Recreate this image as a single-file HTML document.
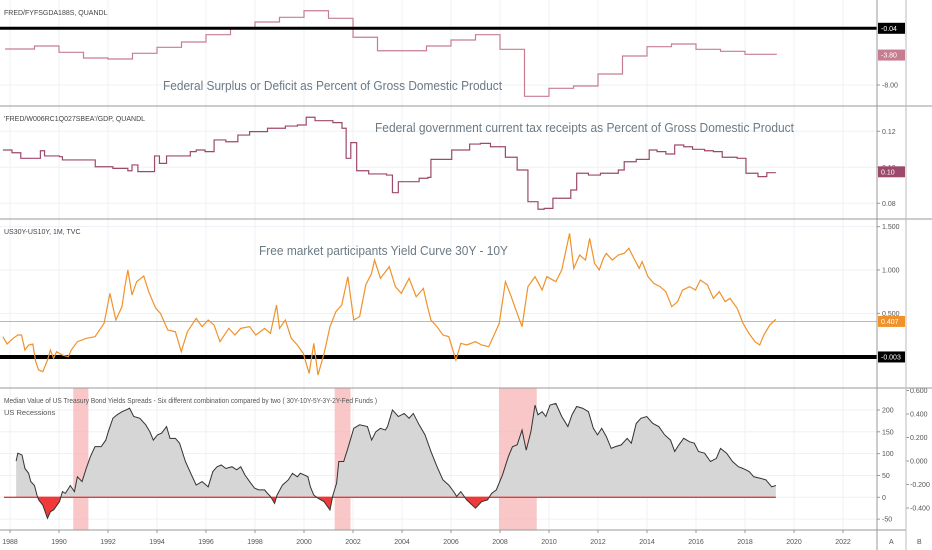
<!DOCTYPE html>
<html><head><meta charset="utf-8"><style>
html,body{margin:0;padding:0;background:#fff;}
svg{display:block;font-family:"Liberation Sans Narrow","Liberation Sans",sans-serif;}
</style></head><body>
<svg id="c" width="932" height="550" viewBox="0 0 932 550" xmlns="http://www.w3.org/2000/svg">
<g id="grid"></g>
<g id="marks"></g>
<g id="axes"></g>
</svg>
<script>
// ---- data ----
const xTicks = [1988,1990,1992,1994,1996,1998,2000,2002,2004,2006,2008,2010,2012,2014,2016,2018,2020,2022];
// Pane 1: Federal surplus/deficit % GDP (annual steps)
const defYears = [1988,1989,1990,1991,1992,1993,1994,1995,1996,1997,1998,1999,2000,2001,2002,2003,2004,2005,2006,2007,2008,2009,2010,2011,2012,2013,2014,2015,2016,2017,2018];
const defVals = [-2.95,-2.53,-3.41,-4.21,-4.35,-3.55,-2.71,-1.96,-0.94,-0.04,0.84,1.5,2.43,1.36,-1.3,-3.19,-3.19,-2.53,-1.68,-0.94,-2.99,-9.59,-8.47,-8.14,-6.46,-3.93,-2.62,-2.25,-2.99,-3.27,-3.69];
const defTicks = [-0.04,-3.80,-8.00];
// Pane 2: tax receipts / GDP
const taxYears = [1987.71,1988.08,1988.44,1989.05,1989.24,1989.41,1990.02,1990.14,1991.11,1991.48,1992.20,1992.81,1992.98,1993.22,1993.42,1993.90,1994.10,1994.39,1995.36,1995.60,1995.96,1996.33,1996.81,1997.30,1997.78,1998.51,1999.24,1999.73,2000.09,2000.45,2001.18,2001.55,2001.72,2001.91,2002.03,2002.15,2002.64,2003.37,2003.61,2003.85,2004.34,2004.70,2005.06,2005.18,2005.55,2006.03,2006.76,2007.20,2007.61,2008.22,2008.70,2009.14,2009.55,2009.80,2010.16,2010.89,2011.13,2011.61,2012.10,2012.83,2013.07,2013.56,2013.92,2014.09,2014.41,2014.77,2015.13,2015.50,2015.86,2016.35,2016.71,2017.07,2017.68,2018.04,2018.53,2018.89,2019.26];
const taxVals = [0.1096,0.1081,0.1050,0.1050,0.1092,0.1063,0.1059,0.1041,0.1041,0.1003,0.0994,0.0981,0.1013,0.0976,0.0976,0.1063,0.1022,0.1063,0.1087,0.1096,0.1087,0.1152,0.1142,0.1179,0.1198,0.1217,0.1229,0.1235,0.1278,0.1259,0.1248,0.1217,0.1050,0.1137,0.1137,0.0981,0.0963,0.0957,0.0859,0.0920,0.0920,0.0939,0.0944,0.1044,0.1044,0.1096,0.1129,0.1133,0.1114,0.1056,0.0985,0.0809,0.0767,0.0772,0.0828,0.0874,0.0967,0.0957,0.0967,0.0985,0.1031,0.1044,0.1044,0.1096,0.1087,0.1074,0.1124,0.1114,0.1100,0.1092,0.1087,0.1056,0.1050,0.0967,0.0948,0.0970,0.0970];
const taxTicks = [0.12,0.10,0.08];
// Pane 3: US30Y-US10Y
const ycYears = [1987.71,1987.88,1988.13,1988.32,1988.47,1988.61,1988.76,1988.93,1989.05,1989.17,1989.34,1989.53,1989.65,1989.78,1989.90,1990.14,1990.38,1990.50,1990.75,1991.11,1991.47,1991.84,1992.08,1992.32,1992.57,1992.69,1992.81,1992.98,1993.17,1993.46,1993.66,1993.95,1994.14,1994.44,1994.75,1994.99,1995.24,1995.60,1995.84,1996.09,1996.33,1996.57,1996.93,1997.18,1997.42,1997.78,1998.03,1998.39,1998.63,1998.88,1999.00,1999.24,1999.48,1999.73,1999.97,2000.21,2000.40,2000.57,2000.82,2001.06,2001.30,2001.54,2001.79,2002.03,2002.27,2002.52,2002.76,2002.88,2003.12,2003.48,2003.73,2003.97,2004.29,2004.58,2004.87,2005.01,2005.18,2005.43,2005.67,2005.91,2006.20,2006.40,2006.64,2007.00,2007.25,2007.54,2007.85,2007.97,2008.22,2008.46,2008.65,2008.90,2009.14,2009.43,2009.72,2009.91,2010.28,2010.52,2010.84,2011.01,2011.25,2011.49,2011.66,2011.86,2012.05,2012.22,2012.34,2012.58,2012.83,2013.07,2013.26,2013.43,2013.68,2013.80,2014.04,2014.28,2014.53,2014.77,2015.01,2015.25,2015.45,2015.74,2015.98,2016.18,2016.47,2016.71,2016.95,2017.19,2017.39,2017.68,2017.92,2018.16,2018.41,2018.60,2018.77,2019.01,2019.26];
const ycVals = [0.231,0.146,0.212,0.25,0.25,0.077,0.135,0.146,-0.058,-0.154,-0.173,-0.038,0.077,-0.019,0.058,0.019,0,0.077,0.173,0.212,0.231,0.385,0.731,0.423,0.577,0.808,1.0,0.712,0.865,0.931,0.75,0.558,0.5,0.308,0.288,0.058,0.288,0.442,0.346,0.423,0.365,0.173,0.327,0.25,0.327,0.346,0.25,0.327,0.269,0.596,0.327,0.423,0.212,0.135,0.038,-0.192,0.154,-0.212,0.038,0.346,0.519,0.596,0.923,0.423,0.462,0.827,0.962,1.115,0.904,1.038,0.808,0.731,0.904,0.692,0.788,0.615,0.423,0.346,0.25,0.231,-0.038,0.154,0.135,0.173,0.135,0.115,0.308,0.385,0.865,0.692,0.538,0.346,0.808,0.923,0.769,0.923,0.865,1.0,1.423,1.019,1.173,1.115,1.365,1.077,1.0,1.135,1.192,1.115,1.173,1.192,1.25,1.154,1.019,1.096,0.923,0.846,0.808,0.75,0.577,0.635,0.769,0.808,0.769,0.885,0.827,0.673,0.75,0.635,0.673,0.558,0.385,0.269,0.173,0.135,0.25,0.365,0.431];
const ycTicks = [1.5,1.0,0.5];
const ycLast = 0.407, ycZero = -0.003;
// Pane 4: median spread
const medYears = [1988.25,1988.32,1988.49,1988.61,1988.76,1988.85,1989.00,1989.10,1989.17,1989.34,1989.53,1989.65,1989.78,1990.02,1990.14,1990.26,1990.46,1990.63,1990.75,1990.94,1991.11,1991.28,1991.47,1991.72,1991.91,1992.01,1992.20,1992.37,1992.57,1992.74,1992.88,1993.05,1993.30,1993.54,1993.71,1993.85,1994.02,1994.19,1994.39,1994.53,1994.75,1994.92,1995.16,1995.41,1995.60,1995.84,1996.09,1996.28,1996.45,1996.62,1996.81,1997.06,1997.25,1997.42,1997.59,1997.78,1997.98,1998.15,1998.39,1998.51,1998.63,1998.80,1998.90,1999.12,1999.36,1999.53,1999.73,1999.85,2000.02,2000.16,2000.26,2000.40,2000.57,2000.82,2001.06,2001.18,2001.33,2001.42,2001.62,2001.79,2002.03,2002.27,2002.59,2002.76,2002.93,2003.12,2003.32,2003.41,2003.61,2003.85,2004.09,2004.29,2004.46,2004.70,2004.94,2005.18,2005.43,2005.67,2005.91,2006.11,2006.23,2006.40,2006.64,2007.00,2007.25,2007.49,2007.66,2007.85,2008.10,2008.34,2008.51,2008.70,2008.90,2009.07,2009.26,2009.43,2009.55,2009.72,2009.87,2010.04,2010.28,2010.52,2010.77,2010.94,2011.13,2011.37,2011.61,2011.81,2011.98,2012.15,2012.34,2012.54,2012.71,2012.95,2013.19,2013.36,2013.56,2013.75,2013.99,2014.24,2014.48,2014.72,2014.96,2015.13,2015.30,2015.50,2015.74,2015.93,2016.10,2016.35,2016.59,2016.83,2017.00,2017.25,2017.49,2017.73,2017.92,2018.17,2018.36,2018.60,2018.85,2019.09,2019.26];
const medVals = [83,101,97,66,55,36,27,5,-6,-18,-48,-33,-29,-10,13,9,27,13,47,36,66,93,116,116,131,150,181,189,196,200,204,185,181,166,150,131,143,147,162,135,135,124,82,51,28,36,24,59,70,74,66,70,63,70,51,36,21,17,17,9,2,-14,5,28,40,55,47,55,51,47,24,5,-2,-10,-29,5,32,82,82,112,158,166,162,131,150,158,154,162,200,185,192,181,192,166,143,105,70,40,28,13,2,13,-6,-25,-10,-6,9,17,51,93,116,120,154,108,150,211,189,196,185,211,215,185,162,189,208,204,196,158,143,158,139,112,116,120,135,124,169,181,185,169,162,143,131,105,120,135,127,124,105,101,82,89,112,101,82,70,66,59,47,44,40,24,27];
const medTicks = [200,150,100,50,0,-50];
const medRightTicks = [0.6,0.4,0.2,0.0,-0.2,-0.4];
const recStart = [1990.58,2001.25,2007.96];
const recEnd = [1991.2,2001.9,2009.5];

// ---- scales ----
const X = y => 10 + (y - 1988) * 24.5;
const Y1 = v => 28.3 + (-0.04 - v) * 7.12;
const Y2 = v => 167.3 - (v - 0.10) * 1800;
const Y3 = v => 270 - (v - 1.0) * 86.7;
const Y4 = v => 497.3 - v * 0.4367;
const YR = v => 461 - v * 117.5;
const PR = 877;
const NS = 'http://www.w3.org/2000/svg';
const G = document.getElementById('grid'), M = document.getElementById('marks'), A = document.getElementById('axes');
function mk(tag, attrs, parent){const e=document.createElementNS(NS,tag);for(const k in attrs)e.setAttribute(k,attrs[k]);parent.appendChild(e);return e;}

// vertical grid
xTicks.forEach(t=>{
  const l=mk('line',{x1:X(t),x2:X(t),y1:0,y2:530,stroke:'#eef1f6','stroke-width':1},G);
  
  
  const tx=mk('text',{x:X(t),y:544,'font-size':7,fill:'#555','text-anchor':'middle'},A);
  tx.textContent=t;
  
  
  mk('line',{x1:X(t),x2:X(t),y1:530,y2:533,stroke:'#999'},A);
});
// horizontal grid + right labels
function hgrid(ticks, sc, fmt){
  ticks.forEach(v=>{
    const l=mk('line',{x1:0,x2:PR,y1:sc(v),y2:sc(v),stroke:'#eef1f6'},G);
    
    
    mk('line',{x1:PR,x2:PR+3,y1:sc(v),y2:sc(v),stroke:'#999'},A);
    const t=mk('text',{x:PR+5,y:sc(v)+2.5,'font-size':7,fill:'#555'},A);
    t.textContent=fmt(v);
    
    
  });
}
hgrid(defTicks.slice(2),Y1,v=>v.toFixed(2));
hgrid(taxTicks,Y2,v=>v.toFixed(2));
hgrid(ycTicks,Y3,v=>v.toFixed(3));
hgrid(medTicks,Y4,v=>String(v));
medRightTicks.forEach(v=>{
  mk('line',{x1:906,x2:909,y1:YR(v),y2:YR(v),stroke:'#999'},A);
  const t=mk('text',{x:910,y:YR(v)+2.5,'font-size':7,fill:'#555'},A);
  t.textContent=v.toFixed(3);
  
  
});

// recessions
recStart.forEach((s,i)=>{
  const r=mk('rect',{x:X(s),y:388,width:X(recEnd[i])-X(s),height:142,fill:'#f7b4b6',opacity:0.75},M);
  
  
});

// pane1 step line
let d='';
defYears.forEach((yr,i)=>{
  const x0=X(i===0?yr-0.2:yr), x1=X(i===defYears.length-1?yr+1.3:yr+1), y=Y1(defVals[i]);
  d+=(i===0?'M':'L')+x0+','+y+'L'+x1+','+y;
});
const p1=mk('path',{d:d,fill:'none',stroke:'#c67d90','stroke-width':1.2},M);



// pane2 step line
d='';
taxYears.forEach((yr,i)=>{
  const x=X(yr),y=Y2(taxVals[i]);
  if(i===0)d='M'+x+','+y;else d+='H'+x+'V'+y;
});
const p2=mk('path',{d:d,fill:'none',stroke:'#9c4a6c','stroke-width':1.2},M);



// pane3
const zl=mk('line',{x1:0,x2:PR,y1:Y3(ycZero),y2:Y3(ycZero),stroke:'#000','stroke-width':4},M);


const ll=mk('line',{x1:0,x2:PR,y1:Y3(ycLast),y2:Y3(ycLast),stroke:'#f0a050','stroke-width':0.8},M);


const p3=mk('polyline',{points:ycYears.map((yr,i)=>X(yr)+','+Y3(ycVals[i])).join(' '),fill:'none',stroke:'#f0922b','stroke-width':1.2},M);



// pane1 black line
const bl=mk('line',{x1:0,x2:PR,y1:Y1(-0.04),y2:Y1(-0.04),stroke:'#000','stroke-width':3},M);



// pane4 area
const defs=mk('defs',{},M);
const ca=mk('clipPath',{id:'above'},defs);mk('rect',{x:0,y:388,width:PR,height:Y4(0)-388},ca);
const cb=mk('clipPath',{id:'below'},defs);mk('rect',{x:0,y:Y4(0),width:PR,height:530-Y4(0)},cb);
const pts=medYears.map((yr,i)=>X(yr)+','+Y4(medVals[i]));
const ad='M'+X(medYears[0])+','+Y4(0)+'L'+pts.join('L')+'L'+X(medYears[medYears.length-1])+','+Y4(0)+'Z';
const a1=mk('path',{d:ad,fill:'#d6d6d6','clip-path':'url(#above)'},M);


const a2=mk('path',{d:ad,fill:'#f03a3a','clip-path':'url(#below)'},M);


const rz=mk('line',{x1:4,x2:X(2019.26),y1:Y4(0),y2:Y4(0),stroke:'#e83838','stroke-width':1.3},M);


const p4=mk('polyline',{points:pts.join(' '),fill:'none',stroke:'#333','stroke-width':1},M);



// value badges
function badge(y,txt,bg,fg,name){
  const r=mk('rect',{x:PR+1,y:y-5.5,width:27,height:11,fill:bg},A);
  
  
  const t=mk('text',{x:PR+4,y:y+2.5,'font-size':7,fill:fg},A);
  t.textContent=txt;
  
  
}
badge(Y1(-0.04),'-0.04','#000','#fff','deficit-zero-badge');
badge(Y1(-3.8),'-3.80','#c67d90','#fff','deficit-last-badge');
badge(Y2(0.0975),'0.10','#9c4a6c','#fff','tax-last-badge');
badge(Y3(ycLast),'0.407','#f0922b','#fff','yield-last-badge');
badge(Y3(ycZero),'-0.003','#000','#fff','yield-zero-badge');
</script>
<svg width="0" height="0"></svg>
<div style="position:absolute;left:0;top:0;width:932px;height:550px;pointer-events:none;">
<svg width="932" height="550" style="position:absolute;left:0;top:0">
  <line x1="0" y1="106" x2="932" y2="106" stroke="#999" stroke-width="1"/>
  <line x1="0" y1="219" x2="932" y2="219" stroke="#999" stroke-width="1"/>
  <line x1="0" y1="388" x2="932" y2="388" stroke="#999" stroke-width="1"/>
  <line x1="0" y1="530" x2="906" y2="530" stroke="#999" stroke-width="1"/>
  <line x1="877" y1="0" x2="877" y2="550" stroke="#999" stroke-width="1"/>
  <line x1="906" y1="0" x2="906" y2="550" stroke="#bbb" stroke-width="1"/>
  <g font-family="Liberation Sans Narrow, Liberation Sans, sans-serif">
    <text x="4" y="15" font-size="7" fill="#444">FRED/FYFSGDA188S, QUANDL</text>
    <text x="163" y="90" font-size="13" fill="#6b7a85" textLength="339" lengthAdjust="spacingAndGlyphs">Federal Surplus or Deficit as Percent of Gross Domestic Product</text>
    <text x="4" y="121" font-size="7" fill="#444">'FRED/W006RC1Q027SBEA'/GDP, QUANDL</text>
    <text x="375" y="132" font-size="13" fill="#6b7a85" textLength="419" lengthAdjust="spacingAndGlyphs">Federal government current tax receipts as Percent of Gross Domestic Product</text>
    <text x="4" y="234" font-size="7" fill="#444">US30Y-US10Y, 1M, TVC</text>
    <text x="259" y="255" font-size="13" fill="#6b7a85" textLength="249" lengthAdjust="spacingAndGlyphs">Free market participants Yield Curve 30Y - 10Y</text>
    <text x="4" y="403" font-size="7.5" fill="#555" textLength="373" lengthAdjust="spacingAndGlyphs">Median Value of US Treasury Bond Yields Spreads - Six different combination compared by two ( 30Y-10Y-5Y-3Y-2Y-Fed Funds )</text>
    <text x="4" y="415" font-size="7.5" fill="#555">US Recessions</text>
    <text x="889" y="544" font-size="7" fill="#555">A</text>
    <text x="917" y="544" font-size="7" fill="#555">B</text>
  </g>
</svg>
</div>
</body></html>
